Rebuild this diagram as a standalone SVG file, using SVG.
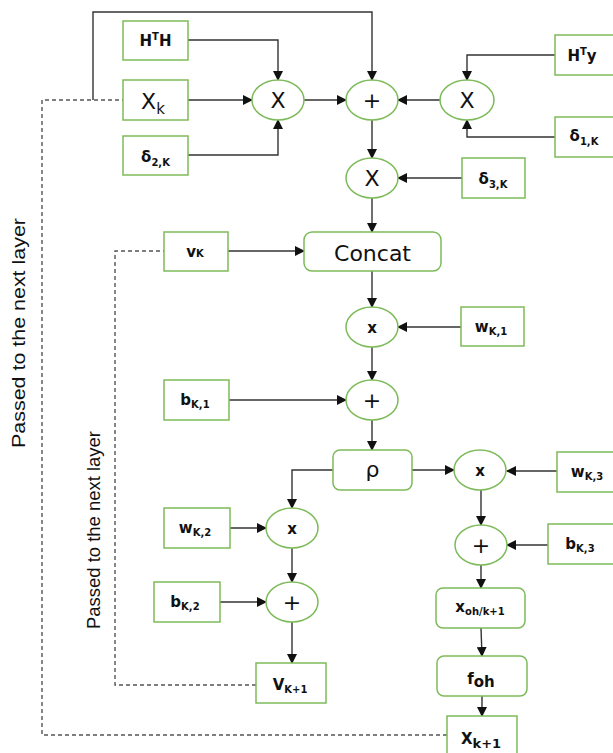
<svg xmlns="http://www.w3.org/2000/svg" width="613" height="753" viewBox="0 0 613 753">
<style>
.box{fill:#fff;stroke:#7dbb5a;stroke-width:1.5}
.ell{fill:#fff;stroke:#7dbb5a;stroke-width:1.5}
.ln{fill:none;stroke:#333;stroke-width:1.4}
.dash{fill:none;stroke:#555;stroke-width:1.4;stroke-dasharray:4,3}
.lb{font-family:"DejaVu Sans",Verdana,sans-serif;font-weight:bold;font-size:15px;fill:#111;text-anchor:middle}
.rg{font-family:"DejaVu Sans",Verdana,sans-serif;font-size:22px;fill:#111;text-anchor:middle}
.sub{font-size:10px}
.side{font-family:"Liberation Sans",Arial,sans-serif;font-size:19px;fill:#111;text-anchor:middle}
</style>
<defs>
<marker id="ar" markerWidth="10" markerHeight="10" refX="9" refY="5" orient="auto" markerUnits="userSpaceOnUse">
<path d="M0,0 L10,5 L0,10 z" fill="#111"/>
</marker>
</defs>

<g id="connectors">
<path class="dash" d="M447,735 H42 V100 H123"/>
<path class="dash" d="M256,685 H115 V251 H164"/>
<path class="ln" d="M93,100 V12 H372 V80" marker-end="url(#ar)"/>
<path class="ln" d="M188,40 H278 V80" marker-end="url(#ar)"/>
<path class="ln" d="M188,100 H252" marker-end="url(#ar)"/>
<path class="ln" d="M188,155 H278 V120" marker-end="url(#ar)"/>
<path class="ln" d="M304,100 H346" marker-end="url(#ar)"/>
<path class="ln" d="M555,55 H467 V80" marker-end="url(#ar)"/>
<path class="ln" d="M555,137 H467 V120" marker-end="url(#ar)"/>
<path class="ln" d="M441,100 H398" marker-end="url(#ar)"/>
<path class="ln" d="M372,120 V158" marker-end="url(#ar)"/>
<path class="ln" d="M462,178 H398" marker-end="url(#ar)"/>
<path class="ln" d="M372,198 V232" marker-end="url(#ar)"/>
<path class="ln" d="M228,251 H304" marker-end="url(#ar)"/>
<path class="ln" d="M372,271 V307" marker-end="url(#ar)"/>
<path class="ln" d="M461,327 H398" marker-end="url(#ar)"/>
<path class="ln" d="M372,347 V380" marker-end="url(#ar)"/>
<path class="ln" d="M229,400 H346" marker-end="url(#ar)"/>
<path class="ln" d="M372,420 V450" marker-end="url(#ar)"/>
<path class="ln" d="M333,470 H292 V508" marker-end="url(#ar)"/>
<path class="ln" d="M230,528 H266" marker-end="url(#ar)"/>
<path class="ln" d="M292,548 V582" marker-end="url(#ar)"/>
<path class="ln" d="M220,602 H266" marker-end="url(#ar)"/>
<path class="ln" d="M292,622 V663" marker-end="url(#ar)"/>
<path class="ln" d="M412,470 H454" marker-end="url(#ar)"/>
<path class="ln" d="M557,471 H507" marker-end="url(#ar)"/>
<path class="ln" d="M481,490 V525" marker-end="url(#ar)"/>
<path class="ln" d="M548,545 H507" marker-end="url(#ar)"/>
<path class="ln" d="M481,565 V588" marker-end="url(#ar)"/>
<path class="ln" d="M481,628 L482,656" marker-end="url(#ar)"/>
<path class="ln" d="M482,696 V716" marker-end="url(#ar)"/>
</g>

<g id="HtH"><rect class="box" x="123" y="21" width="65" height="39"/><text class="lb" x="155.5" y="46">H<tspan class="sub" dy="-6">T</tspan><tspan dy="6">H</tspan></text></g>
<g id="Xk"><rect class="box" x="123" y="80" width="65" height="40"/><text class="rg" x="153" y="109" font-size="24">X<tspan font-size="15" dy="5">k</tspan></text></g>
<g id="d2k"><rect class="box" x="123" y="136" width="65" height="39"/><text class="lb" x="155.5" y="162" font-size="16">δ<tspan class="sub" dy="4">2,K</tspan></text></g>
<g id="mul1"><ellipse class="ell" cx="278" cy="100" rx="26" ry="20"/><text class="rg" x="278" y="108">X</text></g>
<g id="add1"><ellipse class="ell" cx="372" cy="100" rx="26" ry="20"/><text class="rg" x="372" y="108" font-size="24">+</text></g>
<g id="mul2"><ellipse class="ell" cx="467" cy="100" rx="27" ry="20"/><text class="rg" x="467" y="108">X</text></g>
<g id="Hty"><rect class="box" x="555" y="35" width="60" height="40"/><text class="lb" x="582" y="61">H<tspan class="sub" dy="-6">T</tspan><tspan dy="6">y</tspan></text></g>
<g id="d1k"><rect class="box" x="555" y="117" width="60" height="40"/><text class="lb" x="584" y="141" font-size="16">δ<tspan class="sub" dy="4">1,K</tspan></text></g>
<g id="mul3"><ellipse class="ell" cx="372" cy="178" rx="26" ry="20"/><text class="rg" x="372" y="186">X</text></g>
<g id="d3k"><rect class="box" x="462" y="158" width="63" height="40"/><text class="lb" x="493" y="184" font-size="16">δ<tspan class="sub" dy="4">3,K</tspan></text></g>
<g id="concat"><rect class="box" x="304" y="232" width="137" height="39" rx="8"/><text class="rg" x="372.5" y="261" font-size="26">Concat</text></g>
<g id="vk"><rect class="box" x="164" y="232" width="64" height="39"/><text class="lb" x="195" y="257">v<tspan class="sub" dy="0">K</tspan></text></g>
<g id="mul4"><ellipse class="ell" cx="372" cy="327" rx="26" ry="20"/><text class="lb" x="372" y="333" font-size="18">x</text></g>
<g id="wk1"><rect class="box" x="461" y="307" width="63" height="39"/><text class="lb" x="491" y="332">w<tspan class="sub" dy="3">K,1</tspan></text></g>
<g id="add2"><ellipse class="ell" cx="372" cy="400" rx="26" ry="20"/><text class="rg" x="372" y="408" font-size="24">+</text></g>
<g id="bk1"><rect class="box" x="164" y="380" width="65" height="40"/><text class="lb" x="195" y="405">b<tspan class="sub" dy="3">K,1</tspan></text></g>
<g id="rho"><rect class="box" x="333" y="450" width="79" height="40" rx="7"/><text class="rg" x="372.5" y="477" font-size="24">ρ</text></g>
<g id="mul5"><ellipse class="ell" cx="292" cy="528" rx="26" ry="20"/><text class="lb" x="292" y="534" font-size="18">x</text></g>
<g id="wk2"><rect class="box" x="164" y="508" width="66" height="40"/><text class="lb" x="195" y="533">w<tspan class="sub" dy="3">K,2</tspan></text></g>
<g id="add3"><ellipse class="ell" cx="292" cy="602" rx="26" ry="20"/><text class="rg" x="292" y="610" font-size="24">+</text></g>
<g id="bk2"><rect class="box" x="154" y="582" width="66" height="40"/><text class="lb" x="185" y="607">b<tspan class="sub" dy="3">K,2</tspan></text></g>
<g id="vk1"><rect class="box" x="256" y="663" width="70" height="40"/><text class="lb" x="290" y="690" font-size="16">V<tspan class="sub" dy="3">K+1</tspan></text></g>
<g id="mul6"><ellipse class="ell" cx="480" cy="470" rx="26" ry="20"/><text class="lb" x="480" y="476" font-size="18">x</text></g>
<g id="wk3"><rect class="box" x="557" y="452" width="58" height="40"/><text class="lb" x="587" y="477">w<tspan class="sub" dy="3">K,3</tspan></text></g>
<g id="add4"><ellipse class="ell" cx="481" cy="545" rx="26" ry="20"/><text class="rg" x="481" y="553" font-size="24">+</text></g>
<g id="bk3"><rect class="box" x="548" y="524" width="67" height="40"/><text class="lb" x="580" y="549">b<tspan class="sub" dy="3">K,3</tspan></text></g>
<g id="xoh"><rect class="box" x="436" y="588" width="89" height="40" rx="7"/><text class="lb" x="480" y="612">x<tspan class="sub" dy="3">oh/k+1</tspan></text></g>
<g id="foh"><rect class="box" x="437" y="656" width="90" height="40" rx="7"/><text class="lb" x="481" y="684" font-size="22">f<tspan font-size="15" dy="3">oh</tspan></text></g>
<g id="xk1"><rect class="box" x="447" y="716" width="70" height="40"/><text class="lb" x="481" y="744" font-size="20">X<tspan font-size="13" dy="4">k+1</tspan></text></g>

<text class="side" transform="translate(25,333) rotate(-90)" textLength="230" lengthAdjust="spacingAndGlyphs">Passed to the next layer</text>
<text class="side" transform="translate(100,530) rotate(-90)" textLength="198" lengthAdjust="spacingAndGlyphs">Passed to the next layer</text>
</svg>
